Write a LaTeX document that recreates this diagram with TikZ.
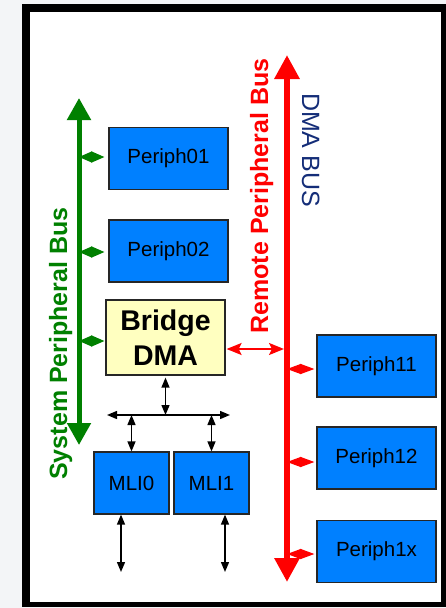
\documentclass[tikz,border=0pt]{standalone}
\usepackage{fontspec}
\setmainfont{Liberation Sans}
\usetikzlibrary{arrows.meta}

\definecolor{pblue}{RGB}{0,128,255}
\definecolor{bridgeyellow}{RGB}{255,255,192}
\definecolor{busgreen}{RGB}{0,128,0}
\definecolor{busred}{RGB}{255,0,0}
\definecolor{dmanavy}{RGB}{20,45,120}
\definecolor{pagegray}{RGB}{243,245,247}

\tikzset{
  boxbase/.style={draw=black!85, line width=1.2pt, inner sep=0pt, align=center},
  periph/.style={boxbase, fill=pblue, minimum width=119pt, minimum height=62pt,
                 font=\fontsize{20.5}{24}\selectfont},
  mli/.style={periph, minimum width=75pt},
  bridgebox/.style={boxbase, fill=bridgeyellow, minimum width=119pt, minimum height=75pt,
                    font=\fontsize{28.5}{35}\selectfont\bfseries},
  gbus/.style={busgreen, line width=5pt,
               arrows={Triangle[length=22pt,width=23pt]-Triangle[length=22pt,width=23pt]}},
  rbus/.style={busred, line width=6pt,
               arrows={Triangle[length=24pt,width=24pt]-Triangle[length=24pt,width=24pt]}},
  gtap/.style={busgreen, line width=1.2pt,
               arrows={Triangle[length=13pt,width=11pt]-Triangle[length=13pt,width=11pt]}},
  rtap/.style={busred, line width=1.2pt,
               arrows={Triangle[length=14pt,width=10pt]-Triangle[length=14pt,width=10pt]}},
  rlink/.style={busred, line width=2pt,
               arrows={Stealth[length=15pt,width=12pt,inset=3pt]-Stealth[length=15pt,width=12pt,inset=3pt]}},
  blk/.style={black, line width=1.4pt,
              arrows={Triangle[length=10pt,width=8pt]-Triangle[length=10pt,width=8pt]}},
  buslabel/.style={font=\fontsize{25}{30}\selectfont\bfseries, inner sep=0pt, anchor=base}
}

\begin{document}
\begin{tikzpicture}[x=1pt,y=-1pt]
  % page and frame
  \fill[pagegray] (0,0) rectangle (446,608);
  \useasboundingbox (0,0) rectangle (446,608);
  \fill[black] (22,4) rectangle (446,607);
  \fill[white] (30,12) rectangle (441,602);

  % bus end points
  \coordinate (gtop) at (79,98);
  \coordinate (gbot) at (79,445);
  \coordinate (rtop) at (287,55);
  \coordinate (rbot) at (287,582);

  % blocks
  \node[periph] (p01) at (168.5,158.5) {Periph01};
  \node[periph] (p02) at (168.5,251) {Periph02};
  \node[bridgebox] (bridge) at (165.5,337.5) {Bridge\\DMA};
  \node[periph] (p11) at (376.5,366) {Periph11};
  \node[periph] (p12) at (376.5,458) {Periph12};
  \node[periph] (p1x) at (376.5,551.5) {Periph1x};
  \node[mli] (mli0) at (131.5,483) {MLI0};
  \node[mli] (mli1) at (211.5,483) {MLI1};

  % buses
  \draw[gbus] (gbot) -- (gtop);
  \draw[rbus] (rbot) -- (rtop);

  % bus labels
  \node[buslabel, busgreen, rotate=90] (syslbl) at (67,343.5) {System Peripheral Bus};
  \node[buslabel, busred, rotate=90] (remlbl) at (268,196) {Remote Peripheral Bus};
  \node[font=\fontsize{25}{30}\selectfont, dmanavy, rotate=-90, inner sep=0pt, anchor=base]
       (dmalbl) at (302,150) {DMA BUS};

  % taps on the system peripheral bus
  \draw[gtap] ([yshift=1.5pt]p01.west -| gtop) -- ([xshift=-4pt,yshift=1.5pt]p01.west);
  \draw[gtap] ([yshift=-1pt]p02.west -| gtop) -- ([xshift=-4pt,yshift=-1pt]p02.west);
  \draw[gtap] ([yshift=-3.5pt]bridge.west -| gtop) -- ([xshift=-1pt,yshift=-3.5pt]bridge.west);

  % taps on the remote peripheral bus
  \draw[rtap] ([yshift=-3pt]p11.west -| rtop) -- ([xshift=-2pt,yshift=-3pt]p11.west);
  \draw[rtap] ([yshift=-4pt]p12.west -| rtop) -- ([xshift=-2pt,yshift=-4pt]p12.west);
  \draw[rtap] ([yshift=-2.5pt]p1x.west -| rtop) -- ([xshift=-2pt,yshift=-2.5pt]p1x.west);
  \draw[rlink] ([xshift=1pt,yshift=-11.5pt]bridge.east) -- ([xshift=-3pt,yshift=-11.5pt]bridge.east -| rtop);

  % MLI distribution
  \coordinate (hl) at (107,415);
  \coordinate (hr) at (230,415);
  \coordinate (m0out) at (121,572);
  \coordinate (m1out) at (225,572);
  \draw[blk] (hl) -- (hr);
  \draw[blk] ([yshift=-2pt]bridge.south) -- (bridge.south |- hl);
  \draw[blk] (mli0.north |- hl) -- (mli0.north);
  \draw[blk] (mli1.north |- hl) -- (mli1.north);
  \draw[blk] (mli0.south -| m0out) -- (m0out);
  \draw[blk] (mli1.south -| m1out) -- (m1out);
\end{tikzpicture}
\end{document}
